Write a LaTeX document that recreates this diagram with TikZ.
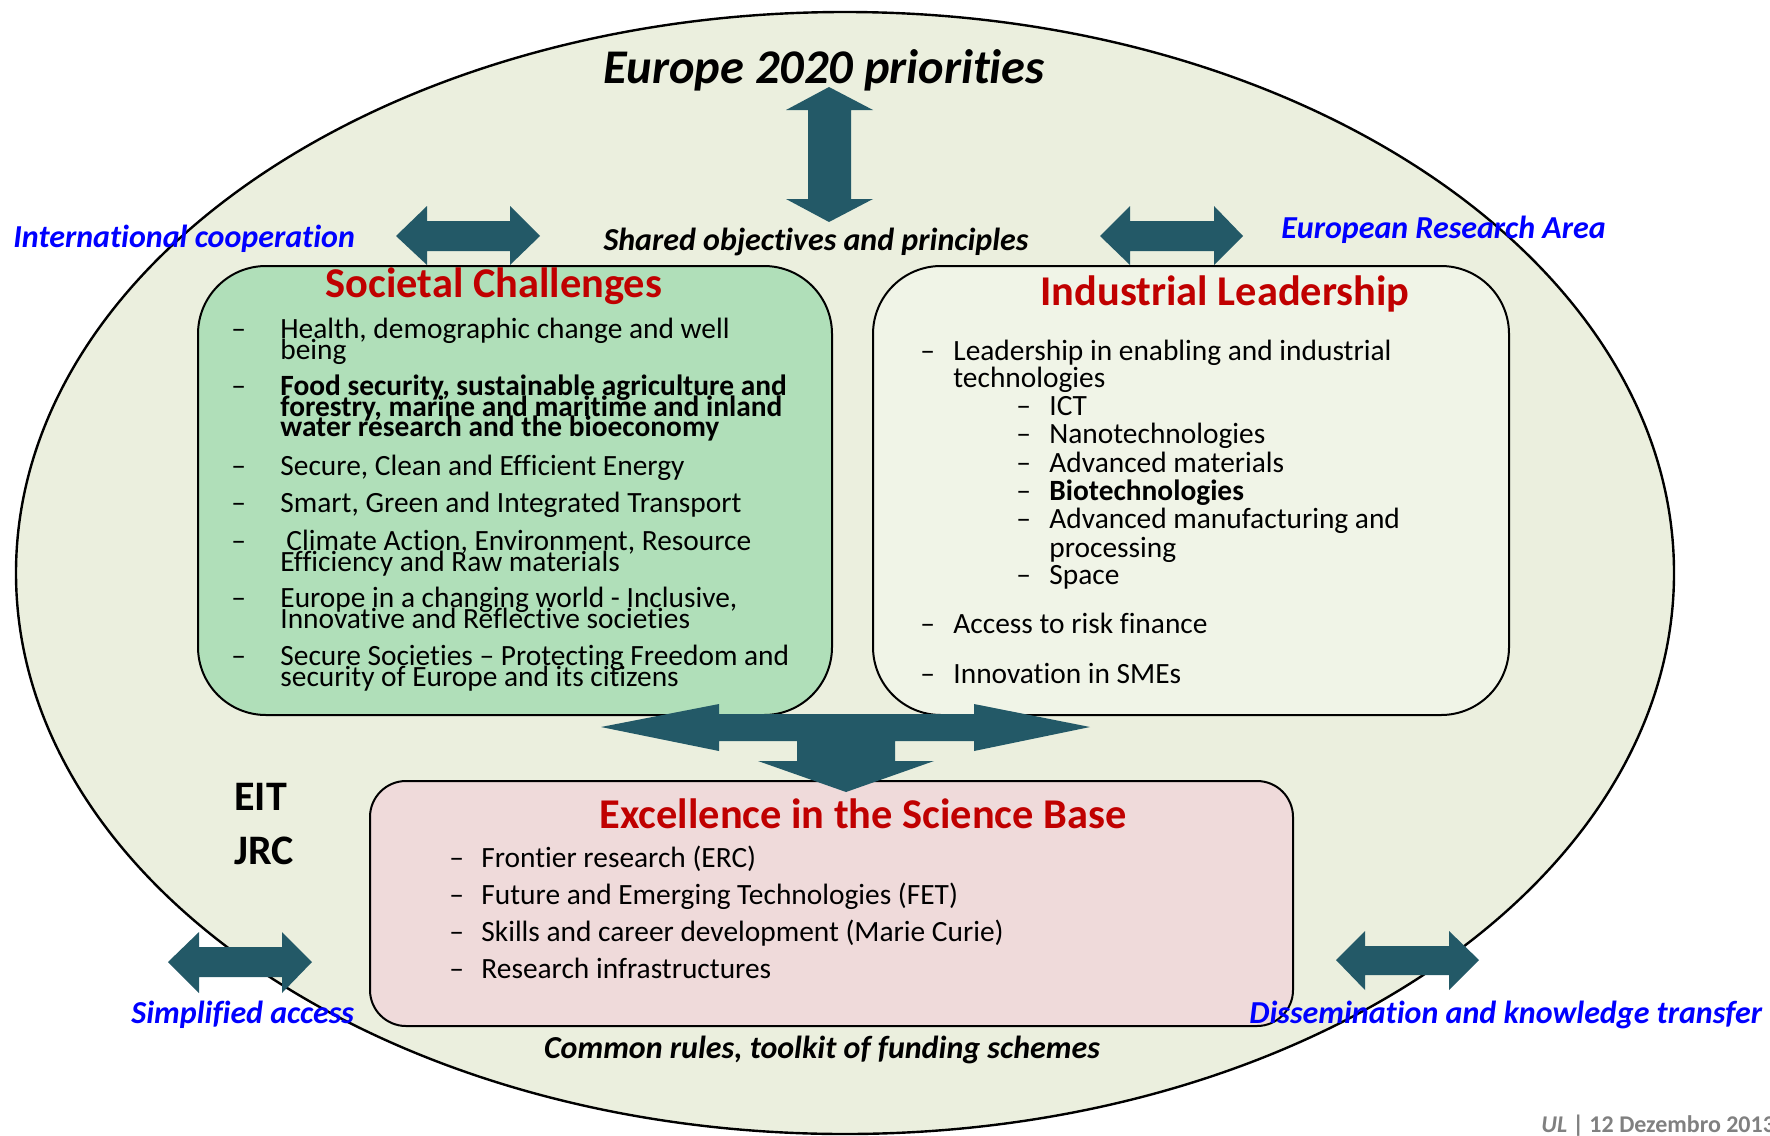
\documentclass[tikz,border=0pt]{standalone}
\usepackage{fontspec}
\setmainfont{Carlito}[Ligatures={TeX,NoCommon}]
\usetikzlibrary{positioning}

\definecolor{ovalfill}{RGB}{235,239,222}
\definecolor{socfill}{RGB}{176,223,185}
\definecolor{indfill}{RGB}{240,244,231}
\definecolor{excfill}{RGB}{239,218,218}
\definecolor{arrowteal}{RGB}{35,89,103}
\definecolor{titlered}{RGB}{192,0,0}
\definecolor{footgray}{RGB}{128,128,128}

\begin{document}
\begin{tikzpicture}[x=0.5pt, y=-0.5pt,
    itemtxt/.style={anchor=base west, font=\fontsize{14.7}{17}\selectfont},
    boldtxt/.style={anchor=base west, font=\fontsize{14.7}{17}\selectfont\bfseries},
    boxtitle/.style={anchor=base, text=titlered, font=\fontsize{21.2}{25}\selectfont\bfseries},
    sidelabel/.style={anchor=base west, text=blue, font=\fontsize{16}{19}\selectfont\bfseries\itshape},
    blacklabel/.style={anchor=base, font=\fontsize{16}{19}\selectfont\bfseries\itshape},
    blockarrow/.style={fill=arrowteal},
    panel/.style={draw=black, line width=1pt, rounded corners=34pt}]
    \tikzstyle{every node}+=[inner sep=0pt]
    \useasboundingbox (0,0) rectangle (1770,1135);
    % big oval
    \draw [fill=ovalfill, line width=1.2pt] (845,573) ellipse [x radius=414.5pt, y radius=280.5pt];
    % the three pillars
    \draw [panel, fill=socfill] (198,266) rectangle (832,715);
    \draw [panel, fill=indfill] (873,266) rectangle (1509,715);
    \draw [panel, fill=excfill, rounded corners=18pt] (370,781) rectangle (1293,1026);
    % block arrows
    \fill [blockarrow] (829,87) -- (873,110) -- (851,110) -- (851,199) -- (873,199) -- (829,222)
        -- (786,199) -- (808,199) -- (808,110) -- (786,110) -- cycle;
    \fill [blockarrow] (396,236) -- (427,206) -- (427,221) -- (510,221) -- (510,206) -- (540,236)
        -- (510,265) -- (510,251) -- (427,251) -- (427,265) -- cycle;
    \fill [blockarrow] (1100,236) -- (1130,206) -- (1130,221) -- (1214,221) -- (1214,206) -- (1243,236)
        -- (1214,265) -- (1214,251) -- (1130,251) -- (1130,265) -- cycle;
    \fill [blockarrow] (168,962) -- (199,932) -- (199,947) -- (282,947) -- (282,932) -- (312,962)
        -- (282,993) -- (282,977) -- (199,977) -- (199,993) -- cycle;
    \fill [blockarrow] (1336,960) -- (1365,931) -- (1365,946) -- (1449,946) -- (1449,931) -- (1479,960)
        -- (1449,990) -- (1449,975) -- (1365,975) -- (1365,990) -- cycle;
    \fill [blockarrow] (601,727) -- (719,704) -- (719,714) -- (974,714) -- (974,704) -- (1090,727)
        -- (974,751) -- (974,741) -- (895,741) -- (895,761) -- (934,761) -- (846,792)
        -- (758,761) -- (797,761) -- (797,741) -- (719,741) -- (719,751) -- cycle;
    % labels round the oval
    \node [anchor=base, font=\fontsize{24.2}{28}\selectfont\bfseries\itshape] (prio) at (824,83) {Europe 2020 priorities};
    \node [sidelabel] (intl) at (13,247) {International cooperation};
    \node [blacklabel] (shared) at (816,250) {Shared objectives and principles};
    \node [sidelabel] (era) at (1281,238) {European Research Area};
    \node [sidelabel] (simple) at (131,1023) {Simplified access};
    \node [sidelabel] (dissem) at (1249,1023) {Dissemination and knowledge transfer};
    \node [blacklabel] (rules) at (822,1058) {Common rules, toolkit of funding schemes};
    \node [anchor=base west, font=\fontsize{21}{25}\selectfont\bfseries] (eit) at (234,810) {EIT};
    \node [anchor=base west, font=\fontsize{21}{25}\selectfont\bfseries] (jrc) at (234,864) {JRC};
    % Societal Challenges
    \node [boxtitle] (soctitle) at (494,297) {Societal Challenges};
    \foreach \y in {338,395,475,512,550,607,665}
        \node [itemtxt] (sd\y) at (231,\y) {--};
    \node [itemtxt] (s1a) at (280,338) {Health, demographic change and well};
    \node [itemtxt] (s1b) at (280,359) {being};
    \node [boldtxt] (s2a) at (280,395) {Food security, sustainable agriculture and};
    \node [boldtxt] (s2b) at (280,416) {forestry, marine and maritime and inland};
    \node [boldtxt] (s2c) at (280,436) {water research and the bioeconomy};
    \node [itemtxt] (s3) at (280,475) {Secure, Clean and Efficient Energy};
    \node [itemtxt] (s4) at (280,512) {Smart, Green and Integrated Transport};
    \node [itemtxt] (s5a) at (286,550) {Climate Action, Environment, Resource};
    \node [itemtxt] (s5b) at (280,571) {Efficiency and Raw materials};
    \node [itemtxt] (s6a) at (280,607) {Europe in a changing world - Inclusive,};
    \node [itemtxt] (s6b) at (280,628) {Innovative and Reflective societies};
    \node [itemtxt] (s7a) at (280,665) {Secure Societies -- Protecting Freedom and};
    \node [itemtxt] (s7b) at (280,686) {security of Europe and its citizens};
    % Industrial Leadership
    \node [boxtitle] (indtitle) at (1225,305) {Industrial Leadership};
    \foreach \y in {360,633,683}
        \node [itemtxt] (id\y) at (920,\y) {--};
    \foreach \y in {415,443,472,500,528,584}
        \node [itemtxt] (isd\y) at (1016,\y) {--};
    \node [itemtxt] (i1a) at (953,360) {Leadership in enabling and industrial};
    \node [itemtxt] (i1b) at (953,387) {technologies};
    \node [itemtxt] (i2) at (1049,415) {ICT};
    \node [itemtxt] (i3) at (1049,443) {Nanotechnologies};
    \node [itemtxt] (i4) at (1049,472) {Advanced materials};
    \node [boldtxt] (i5) at (1049,500) {Biotechnologies};
    \node [itemtxt] (i6a) at (1049,528) {Advanced manufacturing and};
    \node [itemtxt] (i6b) at (1049,557) {processing};
    \node [itemtxt] (i7) at (1049,584) {Space};
    \node [itemtxt] (i8) at (953,633) {Access to risk finance};
    \node [itemtxt] (i9) at (953,683) {Innovation in SMEs};
    % Excellence in the Science Base
    \node [boxtitle] (exctitle) at (863,828) {Excellence in the Science Base};
    \foreach \y in {867,904,941,978}
        \node [itemtxt] (ed\y) at (449,\y) {--};
    \node [itemtxt] (e1) at (481,867) {Frontier research (ERC)};
    \node [itemtxt] (e2) at (481,904) {Future and Emerging Technologies (FET)};
    \node [itemtxt] (e3) at (481,941) {Skills and career development (Marie Curie)};
    \node [itemtxt] (e4) at (481,978) {Research infrastructures};
    % footer
    \node [anchor=base west, text=footgray, font=\fontsize{12}{14}\selectfont\bfseries] (foot) at (1541,1132) {\textit{UL} | 12 Dezembro 2013};
\end{tikzpicture}
\end{document}
